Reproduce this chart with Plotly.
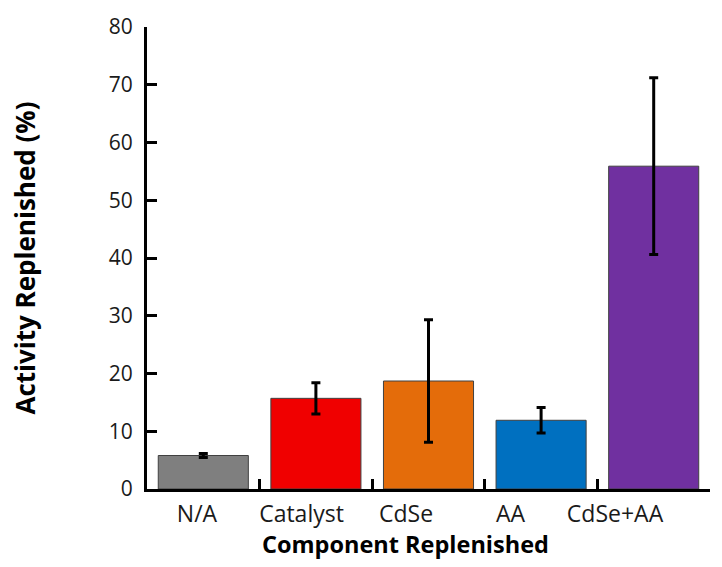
import plotly.graph_objects as go

# Activity recovered after replenishing each reaction component
categories = ["N/A", "Catalyst", "CdSe", "AA", "CdSe+AA"]
activity = [5.8, 15.7, 18.7, 11.9, 55.9]
activity_err = [0.35, 2.7, 10.6, 2.2, 15.3]
bar_colors = ["#7f7f7f", "#f00000", "#e46c0a", "#0070c0", "#7030a0"]
y_ticks = [0, 10, 20, 30, 40, 50, 60, 70, 80]

font_family = "Open Sans, Noto Sans, DejaVu Sans, sans-serif"
positions = list(range(len(categories)))
boundaries = [p + 0.5 for p in positions]

fig = go.Figure()
fig.add_trace(
    go.Bar(
        x=positions,
        y=activity,
        marker=dict(color=bar_colors, line=dict(color="#404040", width=1)),
        error_y=dict(type="data", array=activity_err, visible=True,
                     color="black", thickness=3, width=4.5),
        width=0.8,
        hoverinfo="skip",
    )
)
# invisible carrier so the label axis gets drawn
fig.add_trace(
    go.Scatter(
        x=positions, y=[0] * len(positions), xaxis="x2", yaxis="y",
        mode="markers", marker=dict(opacity=0), hoverinfo="skip",
    )
)

fig.update_layout(
    width=722,
    height=567,
    margin=dict(l=147, r=12, t=22, b=78),
    paper_bgcolor="white",
    plot_bgcolor="white",
    font=dict(family=font_family, color="black"),
    showlegend=False,
    xaxis=dict(
        range=[-0.5, len(categories) - 0.5],
        tickvals=boundaries,
        showticklabels=False,
        showline=True, linecolor="black", linewidth=3,
        ticks="inside", ticklen=10, tickwidth=2.5, tickcolor="black",
        showgrid=False, zeroline=False,
    ),
    # category labels sit on a slightly tighter spacing than the bars
    xaxis2=dict(
        overlaying="x", anchor="y", side="bottom",
        range=[-0.4785, 4.909],
        tickvals=positions, ticktext=categories,
        ticks="outside", ticklen=4, tickcolor="rgba(0,0,0,0)",
        showline=False, showgrid=False, zeroline=False,
        tickfont=dict(size=23, color="#1a1a1a"),
    ),
    yaxis=dict(
        range=[0, 80],
        tickvals=y_ticks,
        showline=True, linecolor="black", linewidth=3,
        ticks="inside", ticklen=10, tickwidth=2.5, tickcolor="black",
        tickfont=dict(size=21, color="#1a1a1a"),
        ticklabelstandoff=7,
        showgrid=False, zeroline=False,
        title=dict(text="<b>Activity Replenished (%)</b>", font=dict(size=26), standoff=66),
    ),
)

fig.add_annotation(
    text="<b>Component Replenished</b>",
    xref="paper", yref="paper", x=0.46, y=-0.12,
    xanchor="center", yanchor="middle", showarrow=False,
    font=dict(size=23.5, color="black", family=font_family),
)

fig.write_html("out.html")
